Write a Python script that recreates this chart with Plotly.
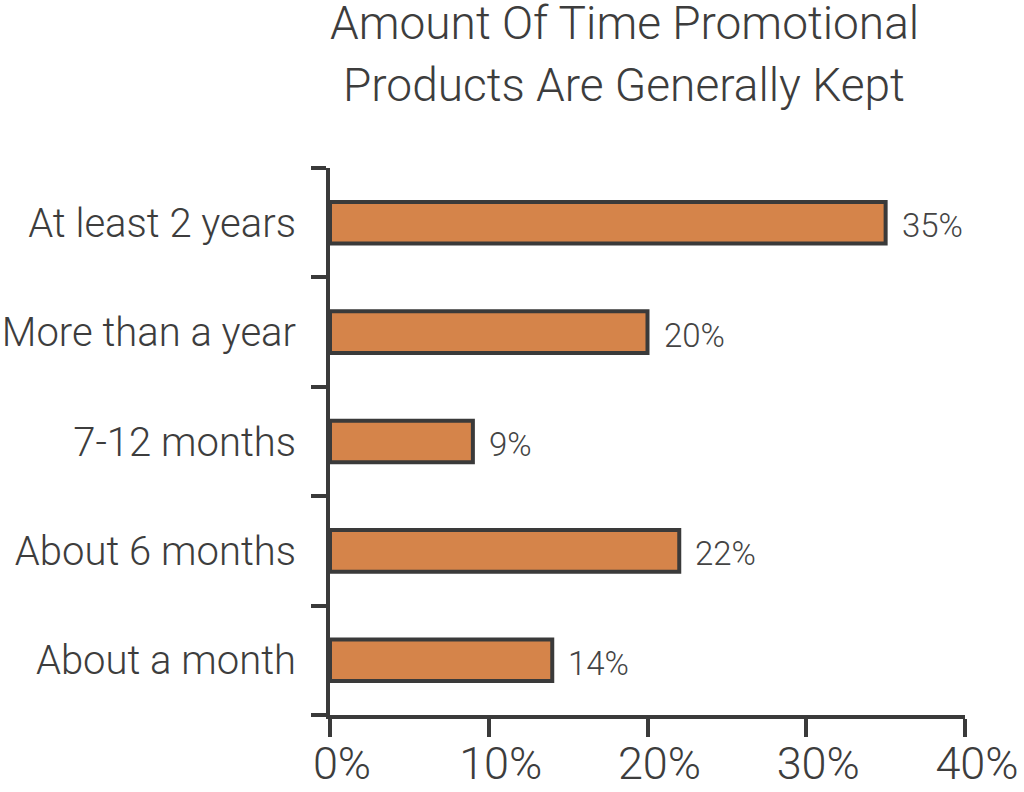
import plotly.graph_objects as go

categories = ["About a month", "About 6 months", "7-12 months", "More than a year", "At least 2 years"]
values = [14, 22, 9, 20, 35]
value_labels = ["14%", "22%", "9%", "20%", "35%"]
x_ticks = [0, 10, 20, 30, 40]
x_tick_labels = ["0%", "10%", "20%", "30%", "40%"]
title_lines = ["Amount Of Time Promotional", "Products Are Generally Kept"]

FONT = "Roboto"
AXIS = "#3a3a3a"
TEXT = "#3d3d3d"

fig = go.Figure(go.Bar(
    x=values, y=categories, orientation="h",
    marker=dict(color="#D5844A", line=dict(color=AXIS, width=4)),
    width=0.38, hoverinfo="skip",
))

annotations = []
for c, v, t in zip(categories, values, value_labels):
    annotations.append(dict(x=v, y=c, xref="x", yref="y", text=t, showarrow=False,
                            xanchor="left", yanchor="middle", xshift=14, yshift=-3,
                            font=dict(family=FONT, size=33, color="#444444", weight=300)))
for i, line in enumerate(title_lines):
    annotations.append(dict(x=0.463, y=1, xref="paper", yref="paper", text=line, showarrow=False,
                            xanchor="center", yanchor="middle", yshift=(145 - 62 * i),
                            font=dict(family=FONT, size=46, color=TEXT, weight=300)))

fig.update_layout(
    width=1024, height=792,
    margin=dict(l=330, r=59, t=168, b=77),
    paper_bgcolor="white", plot_bgcolor="white",
    showlegend=False,
    annotations=annotations,
    xaxis=dict(range=[0, 40], tickvals=x_ticks, ticktext=x_tick_labels, automargin=False,
               showgrid=False, zeroline=False, showline=True, linecolor=AXIS, linewidth=4,
               ticks="outside", ticklen=18, tickwidth=4, tickcolor=AXIS,
               tickfont=dict(family=FONT, size=45, color=TEXT, weight=300),
               ticklabelshift=12, ticklabelstandoff=-12, fixedrange=True),
    yaxis=dict(type="category", categoryorder="array", categoryarray=categories, automargin=False,
               tickson="boundaries", showgrid=False, zeroline=False,
               showline=True, linecolor=AXIS, linewidth=4,
               ticks="outside", ticklen=15, tickwidth=4, tickcolor=AXIS,
               tickfont=dict(family=FONT, size=40, color=TEXT, weight=300),
               ticklabelstandoff=22, fixedrange=True),
)

fig.write_html(
    "out.html",
    config={"displayModeBar": False},
    post_script="document.body.style.margin='0';document.body.style.overflow='hidden';",
)
